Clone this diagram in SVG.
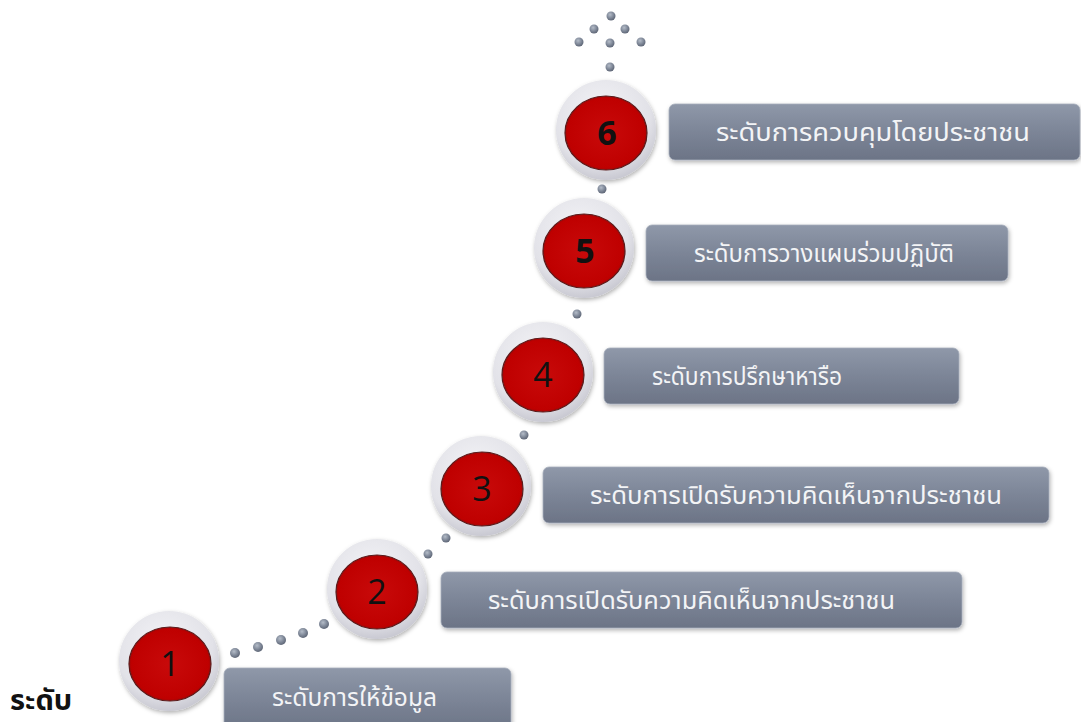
<svg xmlns="http://www.w3.org/2000/svg" width="1081" height="722" viewBox="0 0 1081 722">
<defs>
<linearGradient id="boxG" x1="0" y1="0" x2="0" y2="1">
<stop offset="0" stop-color="#8f98a9"/>
<stop offset="0.5" stop-color="#7c8597"/>
<stop offset="1" stop-color="#6c7486"/>
</linearGradient>
<radialGradient id="ringG" cx="0.45" cy="0.35" r="0.65">
<stop offset="0" stop-color="#f4f4f7"/>
<stop offset="0.75" stop-color="#e2e2e8"/>
<stop offset="1" stop-color="#c9c9d2"/>
</radialGradient>
<radialGradient id="redG" cx="0.5" cy="0.5" r="0.55">
<stop offset="0" stop-color="#c80a0a"/>
<stop offset="0.85" stop-color="#bf0000"/>
<stop offset="1" stop-color="#7a1010"/>
</radialGradient>
<radialGradient id="dotG" cx="0.4" cy="0.35" r="0.65">
<stop offset="0" stop-color="#b4bcc8"/>
<stop offset="0.6" stop-color="#7f8898"/>
<stop offset="1" stop-color="#5f6777"/>
</radialGradient>
<filter id="sh" x="-20%" y="-20%" width="140%" height="150%">
<feDropShadow dx="1" dy="2" stdDeviation="2" flood-color="#000" flood-opacity="0.3"/>
</filter>
</defs>
<style>
.ring{fill:url(#ringG);filter:url(#sh)}
.red{fill:url(#redG);stroke:#5a1c1c;stroke-width:1.2}
.box{fill:url(#boxG);stroke:#a6adbb;stroke-width:0.8;filter:url(#sh)}
.lbl{font-family:"Noto Sans Thai","Noto Sans",sans-serif;font-size:25px;fill:#f3f4f6}
.num{font-family:"Open Sans","Liberation Sans",sans-serif;font-size:34px;fill:#111;text-anchor:middle}
.dot{fill:url(#dotG)}
.title{font-family:"Noto Sans Thai","Noto Sans",sans-serif;font-size:29px;font-weight:bold;fill:#111}
</style>
<rect width="1081" height="722" fill="#ffffff"/>
<g id="connectors">
<circle class="dot" cx="235" cy="653" r="5"/>
<circle class="dot" cx="258" cy="647" r="5"/>
<circle class="dot" cx="281" cy="640" r="5"/>
<circle class="dot" cx="303" cy="633" r="5"/>
<circle class="dot" cx="324" cy="624" r="5"/>
<circle class="dot" cx="428" cy="554" r="4.5"/>
<circle class="dot" cx="446" cy="538" r="4.5"/>
<circle class="dot" cx="524" cy="435" r="4.5"/>
<circle class="dot" cx="577" cy="314" r="4.5"/>
<circle class="dot" cx="602" cy="189" r="4.5"/>
<circle class="dot" cx="610" cy="67" r="4.5"/>
<circle class="dot" cx="579" cy="42" r="4.5"/>
<circle class="dot" cx="610" cy="43" r="4.5"/>
<circle class="dot" cx="641" cy="42" r="4.5"/>
<circle class="dot" cx="594" cy="29" r="4.5"/>
<circle class="dot" cx="625" cy="29" r="4.5"/>
<circle class="dot" cx="611" cy="16" r="4.5"/>
</g>
<g id="level1">
<circle class="ring" cx="169" cy="661" r="50"/>
<ellipse class="red" cx="170" cy="664" rx="41" ry="37"/>
<text class="num" x="170" y="676">1</text>
<rect class="box" x="224" y="668" width="287" height="62" rx="6"/>
<text class="lbl" x="272" y="706" textLength="165" lengthAdjust="spacingAndGlyphs">ระดับการให้ข้อมูล</text>
</g>
<g id="level2">
<circle class="ring" cx="377" cy="589" r="50"/>
<ellipse class="red" cx="377" cy="592" rx="41" ry="37"/>
<text class="num" x="377" y="604">2</text>
<rect class="box" x="441" y="572" width="521" height="56" rx="6"/>
<text class="lbl" x="488" y="609" textLength="407" lengthAdjust="spacingAndGlyphs">ระดับการเปิดรับความคิดเห็นจากประชาชน</text>
</g>
<g id="level3">
<circle class="ring" cx="481" cy="486" r="50"/>
<ellipse class="red" cx="482" cy="489" rx="41" ry="37"/>
<text class="num" x="482" y="501">3</text>
<rect class="box" x="543" y="467" width="506" height="56" rx="6"/>
<text class="lbl" x="590" y="504" textLength="412" lengthAdjust="spacingAndGlyphs">ระดับการเปิดรับความคิดเห็นจากประชาชน</text>
</g>
<g id="level4">
<circle class="ring" cx="543" cy="372" r="50"/>
<ellipse class="red" cx="543" cy="375" rx="41" ry="37"/>
<text class="num" x="543" y="387">4</text>
<rect class="box" x="604" y="348" width="355" height="56" rx="6"/>
<text class="lbl" x="652" y="385" textLength="190" lengthAdjust="spacingAndGlyphs">ระดับการปรึกษาหารือ</text>
</g>
<g id="level5">
<circle class="ring" cx="584" cy="248" r="50"/>
<ellipse class="red" cx="584" cy="251" rx="41" ry="37"/>
<text class="num" x="585" y="263" font-weight="bold">5</text>
<rect class="box" x="646" y="225" width="362" height="56" rx="6"/>
<text class="lbl" x="694" y="262" textLength="260" lengthAdjust="spacingAndGlyphs">ระดับการวางแผนร่วมปฏิบัติ</text>
</g>
<g id="level6">
<circle class="ring" cx="606" cy="130" r="50"/>
<ellipse class="red" cx="606" cy="133" rx="41" ry="37"/>
<text class="num" x="607" y="145" font-weight="bold">6</text>
<rect class="box" x="669" y="104" width="411" height="56" rx="6"/>
<text class="lbl" x="716" y="141" textLength="314" lengthAdjust="spacingAndGlyphs">ระดับการควบคุมโดยประชาชน</text>
</g>
<text class="title" x="10" y="710">ระดับ</text>
</svg>
